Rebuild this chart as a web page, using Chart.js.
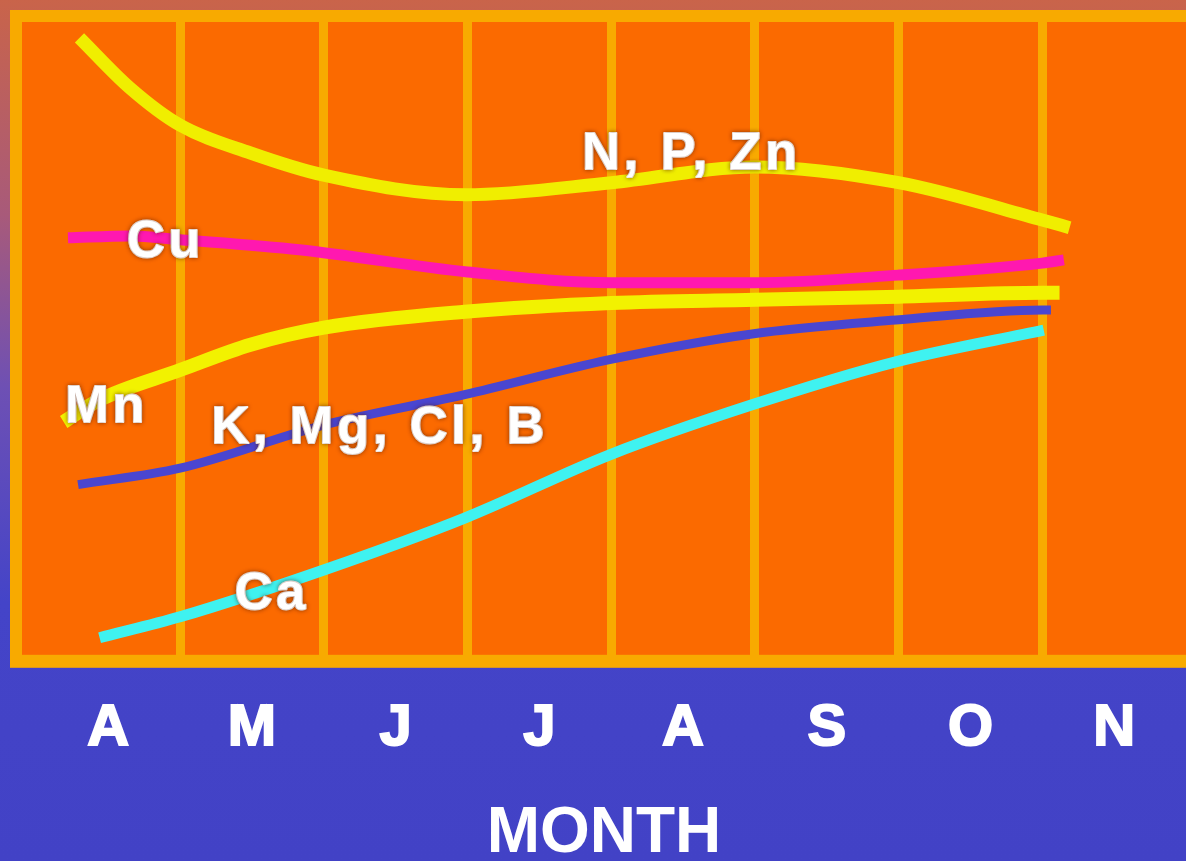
<!DOCTYPE html>
<html>
<head>
<meta charset="utf-8">
<title>Nutrient uptake by month</title>
<script src="https://cdn.jsdelivr.net/npm/chart.js@4.4.1/dist/chart.umd.min.js"></script>
<style>
  html, body {
    margin: 0;
    padding: 0;
    width: 1186px;
    height: 861px;
    overflow: hidden;
    background: linear-gradient(180deg, #c9644a 0%, #a85a7a 25%, #6e50b4 45%, #4444c8 70%, #4242c6 100%);
  }
  #wrap {
    position: relative;
    width: 1186px;
    height: 861px;
  }
</style>
</head>
<body>
<div id="wrap"><canvas id="uptakeChart"></canvas></div>
<script>
// Month columns (x = 0..8, one column per month)
const months = ['A', 'M', 'J', 'J', 'A', 'S', 'O', 'N'];

// Relative uptake level (0 = bottom of frame, 100 = top)
const nPZnX = [0.30, 0.65, 1.00, 1.49, 2.00, 2.99, 4.00, 5.00, 6.00, 7.00, 7.19];
const nPZnY = [97.5, 89.6, 83.7, 79.3, 75.8, 72.7, 74.6, 77.1, 74.6, 68.7, 67.5];

const cuX = [0.22, 0.65, 1.00, 1.83, 3.00, 4.00, 5.00, 6.00, 7.00, 7.15];
const cuY = [65.9, 66.2, 65.6, 64.0, 60.5, 58.8, 58.8, 60.0, 61.9, 62.4];

const mnX = [0.19, 0.44, 1.00, 1.49, 2.00, 2.98, 4.00, 5.00, 6.00, 7.00, 7.12];
const mnY = [36.8, 40.3, 45.0, 49.0, 51.7, 54.2, 55.6, 56.1, 56.6, 57.2, 57.2];

const kMgX = [0.29, 1.00, 2.00, 2.98, 3.98, 4.98, 5.98, 7.00, 7.06];
const kMgY = [26.9, 29.5, 36.3, 41.1, 46.6, 50.7, 52.9, 54.5, 54.5];

const caX = [0.44, 1.00, 2.00, 2.98, 3.99, 4.98, 5.98, 7.01];
const caY = [2.7, 6.0, 13.4, 21.6, 31.6, 39.5, 46.3, 51.3];

// Series names written on the plot and where they sit (month, level)
const seriesNames = ['N, P, Zn', 'Cu', 'Mn', 'K, Mg, Cl, B', 'Ca'];
const nameX = [4.56, 0.90, 0.49, 2.39, 1.64];
const nameY = [79.0, 65.2, 39.0, 35.7, 9.5];

const slideTheme = {
  plot: '#fb6a00',
  frame: '#f8aa00',
  text: '#ffffff',
  font: "'Liberation Sans', Arial, sans-serif"
};

function toPoints(xs, ys) {
  return xs.map((x, i) => ({ x, y: ys[i] }));
}

// Orange panel with gold frame (open on the right, like the slide)
const framePlugin = {
  id: 'slideFrame',
  beforeDraw(chart) {
    const { ctx, chartArea } = chart;
    const b = 12;
    ctx.save();
    ctx.fillStyle = slideTheme.frame;
    ctx.fillRect(chartArea.left - b, chartArea.top - b,
      chartArea.right - chartArea.left + b, chartArea.bottom - chartArea.top + 2 * b + 1);
    ctx.fillStyle = slideTheme.plot;
    ctx.fillRect(chartArea.left, chartArea.top,
      chartArea.right - chartArea.left, chartArea.bottom - chartArea.top);
    ctx.restore();
  }
};

// White element names on top of the curves
const namePlugin = {
  id: 'seriesNames',
  afterDatasetsDraw(chart) {
    const { ctx, scales } = chart;
    ctx.save();
    ctx.font = `bold 52px ${slideTheme.font}`;
    if ('letterSpacing' in ctx) ctx.letterSpacing = '4px';
    ctx.fillStyle = slideTheme.text;
    ctx.strokeStyle = slideTheme.text;
    ctx.lineWidth = 2;
    ctx.lineJoin = 'round';
    ctx.textAlign = 'center';
    ctx.textBaseline = 'middle';
    ctx.shadowColor = 'rgba(90, 30, 0, 0.55)';
    ctx.shadowBlur = 4;
    seriesNames.forEach((name, i) => {
      const px = scales.x.getPixelForValue(nameX[i]);
      const py = scales.y.getPixelForValue(nameY[i]);
      ctx.strokeText(name, px, py);
      ctx.fillText(name, px, py);
    });
    ctx.restore();
  }
};

const lineStyle = (label, xs, ys, color, width) => ({
  label,
  data: toPoints(xs, ys),
  borderColor: color,
  borderWidth: width,
  pointRadius: 0,
  fill: false,
  cubicInterpolationMode: 'monotone',
  borderCapStyle: 'butt'
});

const halfTicks = [];
for (let v = 0.5; v <= 7.5; v += 0.5) halfTicks.push(v);

new Chart(document.getElementById('uptakeChart'), {
  type: 'line',
  data: {
    datasets: [
      lineStyle('Ca', caX, caY, '#3ff2f0', 11),
      lineStyle('K, Mg, Cl, B', kMgX, kMgY, '#4a46d0', 9),
      lineStyle('Mn', mnX, mnY, '#f2f200', 14),
      lineStyle('Cu', cuX, cuY, '#ff18b0', 11),
      lineStyle('N, P, Zn', nPZnX, nPZnY, '#f0ee00', 13)
    ]
  },
  options: {
    responsive: true,
    maintainAspectRatio: false,
    animation: false,
    layout: {
      padding: { top: 22, left: 22, right: 0, bottom: 1 }
    },
    plugins: {
      legend: { display: false },
      tooltip: { enabled: false }
    },
    scales: {
      x: {
        type: 'linear',
        min: -0.1,
        max: 8,
        afterBuildTicks: (axis) => {
          axis.ticks = halfTicks.map(value => ({ value }));
        },
        grid: {
          drawTicks: false,
          lineWidth: 9,
          color: (c) => (c.tick && Number.isInteger(c.tick.value) ? slideTheme.frame : 'rgba(0,0,0,0)')
        },
        border: { display: false },
        ticks: {
          autoSkip: false,
          maxRotation: 0,
          padding: 45,
          color: slideTheme.text,
          textStrokeColor: slideTheme.text,
          textStrokeWidth: 2,
          font: { family: slideTheme.font, size: 58, weight: 'bold', lineHeight: 1 },
          callback: (value) => (Number.isInteger(value) ? '' : months[Math.floor(value)])
        },
        title: {
          display: true,
          text: 'MONTH',
          color: slideTheme.text,
          font: { family: slideTheme.font, size: 64, weight: 'bold', lineHeight: 0.8 },
          padding: { top: 6, bottom: 0 }
        }
      },
      y: {
        display: false,
        min: 0,
        max: 100
      }
    }
  },
  plugins: [framePlugin, namePlugin]
});
</script>
</body>
</html>
